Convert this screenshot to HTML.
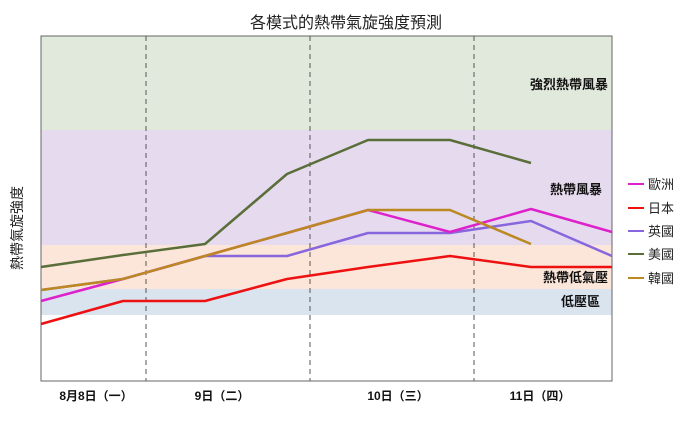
<!DOCTYPE html>
<html><head><meta charset="utf-8"><style>
body{margin:0;background:#fff;}
svg{display:block;font-family:"Liberation Sans","Noto Sans CJK TC",sans-serif;}
</style></head><body>
<svg width="692" height="428" xmlns="http://www.w3.org/2000/svg">
<text x="346" y="28" font-size="16" text-anchor="middle" fill="#222">各模式的熱帶氣旋強度預測</text>
<rect x="41" y="36" width="571" height="94" fill="#e0e9dc"/>
<rect x="41" y="130" width="571" height="115" fill="#e6dbee"/>
<rect x="41" y="245" width="571" height="44" fill="#fbe6d9"/>
<rect x="41" y="289" width="571" height="26" fill="#d9e4ef"/>
<g stroke="#555" stroke-dasharray="5,4" stroke-width="1">
<line x1="146" y1="36" x2="146" y2="381"/><line x1="310" y1="36" x2="310" y2="381"/><line x1="474" y1="36" x2="474" y2="381"/></g>
<rect x="41" y="36" width="571" height="345" fill="none" stroke="#666" stroke-width="1"/>
<g font-size="13" font-weight="bold" fill="#111" text-anchor="end">
<text x="608" y="89">強烈熱帶風暴</text><text x="602" y="194">熱帶風暴</text><text x="608" y="282">熱帶低氣壓</text><text x="600" y="306">低壓區</text></g>
<g fill="none" stroke-width="2.5" stroke-linejoin="round">
<polyline stroke="#5a6e3a" points="41,267 123,255 205,244 287,174 368,140 450,140 531,163"/>
<polyline stroke="#8866dd" points="41,290 123,279 205,256 287,256 368,233 450,233 531,221 612,256"/>
<polyline stroke="#dd22cc" points="41,301 123,279 205,256 287,233 368,210 450,232 531,209 612,232"/>
<polyline stroke="#bb8822" points="41,290 123,279 205,256 287,233 368,210 450,210 531,244"/>
<polyline stroke="#ee1111" points="41,324 123,301 205,301 287,279 368,267 450,256 531,267 612,267"/>
</g>
<g font-size="12" font-weight="bold" fill="#111" text-anchor="middle">
<text x="96" y="400">8月8日（一）</text><text x="222" y="400">9日（二）</text><text x="398" y="400">10日（三）</text><text x="540" y="400">11日（四）</text></g>
<text transform="translate(22,228) rotate(-90)" font-size="14" text-anchor="middle" fill="#222">熱帶氣旋強度</text>
<g font-size="13" fill="#222">
<line x1="628" y1="184" x2="644" y2="184" stroke="#dd22cc" stroke-width="2"/><text x="648" y="189">歐洲</text>
<line x1="628" y1="208" x2="644" y2="208" stroke="#ee1111" stroke-width="2"/><text x="648" y="213">日本</text>
<line x1="628" y1="231" x2="644" y2="231" stroke="#8866dd" stroke-width="2"/><text x="648" y="236">英國</text>
<line x1="628" y1="254" x2="644" y2="254" stroke="#5a6e3a" stroke-width="2"/><text x="648" y="259">美國</text>
<line x1="628" y1="278" x2="644" y2="278" stroke="#bb8822" stroke-width="2"/><text x="648" y="283">韓國</text>
</g>
</svg>
</body></html>
